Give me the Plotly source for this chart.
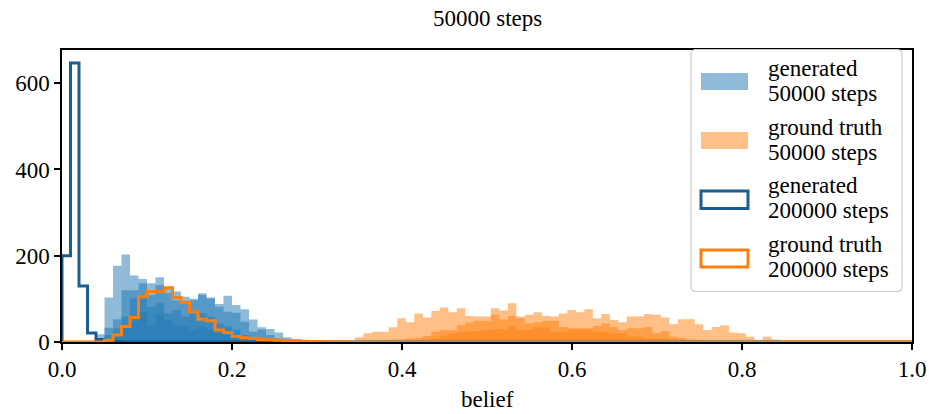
import numpy as np
import plotly.graph_objects as go

# ---------------- data (counts per 0.01-wide bin) ----------------
BIN_WIDTH = 0.01

# generated, 50000 steps: four overlapping runs, bins start at 0.00 (bin index 0..30)
gen50_start = 0.0
gen50_run1 = [0, 0, 0, 3, 18, 103, 177, 203, 154, 146, 136, 150, 124, 117, 105, 100,
              113, 103, 88, 107, 86, 76, 52, 34, 30, 22, 11, 6, 4, 2, 1]
gen50_run2 = [0, 0, 0, 1, 5, 33, 53, 120, 120, 136, 109, 132, 113, 97, 90, 97,
              109, 101, 82, 70, 68, 47, 24, 29, 16, 8, 5, 2, 1, 0, 0]
gen50_run3 = [0, 0, 0, 0, 2, 16, 32, 59, 101, 101, 82, 90, 66, 74, 59, 66,
              66, 59, 43, 36, 28, 16, 8, 6, 5, 2, 1, 0, 0, 0, 0]
gen50_run4 = [0, 0, 0, 0, 0, 6, 15, 32, 47, 70, 39, 63, 51, 39, 36, 28,
              36, 28, 20, 16, 11, 6, 3, 2, 1, 0, 0, 0, 0, 0, 0]

# ground truth, 50000 steps: three overlapping runs, bins start at 0.3345 (k = 33..84)
gt50_start = 0.3345
gt50_run1 = [2, 11, 20, 24, 24, 34, 55, 46, 66, 57, 72, 80, 69, 78, 60, 59, 59, 78,
             73, 90, 59, 63, 69, 61, 59, 66, 74, 69, 76, 55, 65, 51, 46, 59, 59, 65,
             63, 57, 41, 53, 53, 41, 28, 35, 39, 22, 20, 12, 5, 12, 6, 2]
gt50_run2 = [0, 1, 2, 3, 4, 5, 6, 8, 10, 14, 24, 28, 28, 39, 45, 49, 49, 63,
             52, 60, 55, 43, 46, 49, 49, 35, 32, 32, 32, 37, 43, 34, 28, 32, 32, 35,
             20, 25, 12, 10, 6, 4, 3, 2, 1, 0, 0, 0, 0, 0, 0, 0]
gt50_run3 = [0, 0, 0, 1, 1, 2, 2, 3, 4, 6, 10, 15, 20, 22, 25, 25, 28, 30,
             29, 37, 28, 28, 34, 34, 24, 24, 29, 29, 29, 24, 24, 20, 20, 12, 12, 8,
             8, 8, 5, 3, 2, 1, 0, 0, 0, 0, 0, 0, 0, 0, 0, 0]

# 200000 steps (step outlines), 100 bins over [0, 1]
gen200_counts = [200, 647, 130, 21, 6, 2, 1] + [0] * 93
gt200_counts = [0, 0, 0, 0, 0, 4, 16, 36, 57, 105, 117, 117, 126, 103, 92, 70, 53, 49,
                28, 22, 13, 10, 8, 6, 5, 4, 3, 3, 2, 1, 1] + [0] * 69

x_ticks = [0.0, 0.2, 0.4, 0.6, 0.8, 1.0]
y_ticks = [0, 200, 400, 600]
title_text = "50000 steps"
x_label = "belief"
legend_labels = [("generated", "50000 steps"), ("ground truth", "50000 steps"),
                 ("generated", "200000 steps"), ("ground truth", "200000 steps")]

# ---------------- style ----------------
BLUE = "#1f77b4"
BLUE_FILL = "rgba(31,119,180,0.5)"
ORANGE = "#ff7f0e"
ORANGE_FILL = "rgba(255,127,14,0.5)"
DARK_BLUE = "#1b5e8f"
FONT = "Liberation Serif"
FS = 23


def step_xy(start, counts, width=BIN_WIDTH):
    counts = list(counts)
    edges = start + width * np.arange(len(counts) + 1)
    x = [edges[0]] + list(edges[:-1]) + [edges[-1]]
    y = [0] + counts + [0]
    return x, y


fig = go.Figure()

for run in [gen50_run1, gen50_run2, gen50_run3, gen50_run4]:
    x, y = step_xy(gen50_start, run)
    fig.add_trace(go.Scatter(x=x, y=y, mode="lines", line=dict(shape="hv", width=0, color=BLUE),
                             fill="tozeroy", fillcolor=BLUE_FILL, showlegend=False, hoverinfo="skip"))

for run in [gt50_run1, gt50_run2, gt50_run3]:
    x, y = step_xy(gt50_start, run)
    fig.add_trace(go.Scatter(x=x, y=y, mode="lines", line=dict(shape="hv", width=0, color=ORANGE),
                             fill="tozeroy", fillcolor=ORANGE_FILL, showlegend=False, hoverinfo="skip"))

x, y = step_xy(0.0, gen200_counts)
fig.add_trace(go.Scatter(x=x, y=y, mode="lines", line=dict(shape="hv", width=3, color=DARK_BLUE),
                         showlegend=False))
x, y = step_xy(0.0, gt200_counts)
fig.add_trace(go.Scatter(x=x, y=y, mode="lines", line=dict(shape="hv", width=3, color=ORANGE),
                         showlegend=False))

# plot area in pixels
L, R, T, B = 62, 912, 50, 342
W, H = 929, 414


def px(xp):
    return (xp - L) / (R - L)


def py(yp):
    return (B - yp) / (B - T)


shapes = []
annotations = []

# legend frame (rounded)
x0, x1, y0, y1, r = 691, 902, 49.5, 291.5, 5
path = (f"M {px(x0 + r)},{py(y0)} L {px(x1 - r)},{py(y0)} Q {px(x1)},{py(y0)} {px(x1)},{py(y0 + r)} "
        f"L {px(x1)},{py(y1 - r)} Q {px(x1)},{py(y1)} {px(x1 - r)},{py(y1)} "
        f"L {px(x0 + r)},{py(y1)} Q {px(x0)},{py(y1)} {px(x0)},{py(y1 - r)} "
        f"L {px(x0)},{py(y0 + r)} Q {px(x0)},{py(y0)} {px(x0 + r)},{py(y0)} Z")
shapes.append(dict(type="path", xref="paper", yref="paper", path=path,
                   line=dict(color="#cccccc", width=1.2), fillcolor="rgba(255,255,255,0.8)", layer="above"))

patch_y = [(73, 90), (132, 149), (191, 208.5), (250, 267)]
patch_style = [
    dict(fillcolor=BLUE_FILL, line=dict(width=0)),
    dict(fillcolor=ORANGE_FILL, line=dict(width=0)),
    dict(fillcolor="white", line=dict(color=DARK_BLUE, width=3)),
    dict(fillcolor="white", line=dict(color=ORANGE, width=3)),
]
text_y = [(68, 93), (127, 152), (185, 210), (244, 269)]
for (ya, yb), st, (t1, t2), (l1, l2) in zip(patch_y, patch_style, text_y, legend_labels):
    shapes.append(dict(type="rect", xref="paper", yref="paper", x0=px(701), x1=px(748),
                       y0=py(yb), y1=py(ya), layer="above", **st))
    for ty, txt in [(t1, l1), (t2, l2)]:
        annotations.append(dict(xref="paper", yref="paper", x=px(766), y=py(ty), text=txt,
                                showarrow=False, xanchor="left", yanchor="middle",
                                font=dict(family=FONT, size=FS, color="black")))

annotations.append(dict(xref="paper", yref="paper", x=px(487), y=py(18), text=title_text,
                        showarrow=False, xanchor="center", yanchor="middle",
                        font=dict(family=FONT, size=FS, color="black")))
annotations.append(dict(xref="paper", yref="paper", x=px(487), y=py(399), text=x_label,
                        showarrow=False, xanchor="center", yanchor="middle",
                        font=dict(family=FONT, size=FS, color="black")))

axis_common = dict(showline=True, mirror=True, linecolor="black", linewidth=1.5,
                   ticks="outside", ticklen=6, tickwidth=1.5, tickcolor="black",
                   showgrid=False, zeroline=False, automargin=False,
                   tickfont=dict(family=FONT, size=FS, color="black"))

fig.update_layout(
    width=W, height=H,
    margin=dict(l=L, r=W - R, t=T, b=H - B, autoexpand=False),
    paper_bgcolor="white", plot_bgcolor="white",
    font=dict(family=FONT, size=FS, color="black"),
    xaxis=dict(range=[0, 1], tickvals=x_ticks, tickformat=".1f", **axis_common),
    yaxis=dict(range=[0, 677], tickvals=y_ticks, **axis_common),
    shapes=shapes,
    annotations=annotations,
    showlegend=False,
)

fig.write_html("out.html")
